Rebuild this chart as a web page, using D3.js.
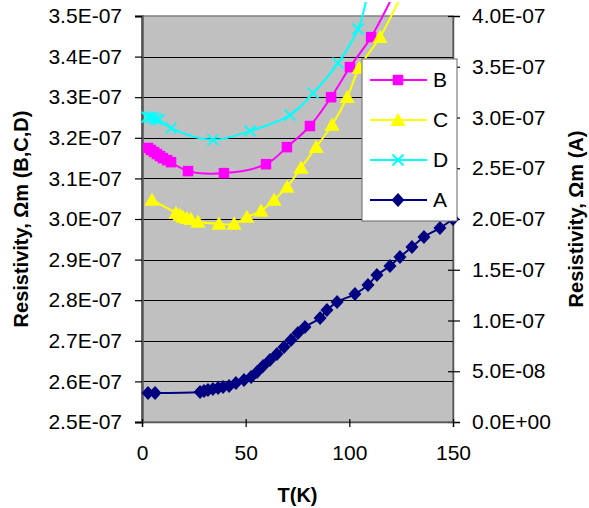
<!DOCTYPE html>
<html>
<head>
<meta charset="utf-8">
<script src="https://cdn.jsdelivr.net/npm/d3@7"></script>
<style>
  body { margin: 0; background: #fff; }
  svg { font-family: "Liberation Sans", Arial, sans-serif; }
</style>
</head>
<body>
<svg id="chart" width="589" height="508"></svg>
<script>
// Temperature (K) and resistivity (Ohm m)
const tB = [2.9, 4.3, 5.8, 7.2, 8.7, 10.1, 12.1, 14, 22.2, 39.5, 59.8, 69.9, 81, 91.2, 100.3, 110.5, 122];
const rB = [3.175, 3.170, 3.165, 3.160, 3.155, 3.150, 3.145, 3.140, 3.118, 3.113, 3.135, 3.177, 3.229, 3.300, 3.374, 3.448, 3.56];

const tC = [4.8, 16.4, 18.3, 19.8, 21.7, 23.6, 27, 37.1, 44.4, 50.6, 57.4, 63.7, 70, 76.7, 84, 91.7, 99, 104.7, 114.8, 125];
const rC = [3.047, 3.015, 3.010, 3.005, 3.002, 3.000, 2.993, 2.988, 2.988, 3.005, 3.020, 3.047, 3.079, 3.126, 3.177, 3.232, 3.300, 3.372, 3.448, 3.55];

const tD = [2.4, 3.9, 5.3, 6.8, 8.2, 14, 34.2, 52.1, 71.4, 82.5, 94.5, 104.2, 109];
const rD = [3.251, 3.251, 3.249, 3.246, 3.244, 3.224, 3.195, 3.217, 3.256, 3.310, 3.384, 3.468, 3.56];

const tA = [2.9, 6.3, 28, 29.9, 31.8, 34.2, 36.7, 39.1, 42, 45.3, 49.2, 52.6, 55.5, 58.4, 61.7, 65.1, 68.5, 71.9, 75.2, 78.6, 85.9, 89.2, 94.1, 102.7, 109, 113.3, 119.6, 124.4, 130.2, 136, 143.7, 150];
const rA = [0.286, 0.286, 0.296, 0.305, 0.315, 0.325, 0.335, 0.345, 0.355, 0.384, 0.414, 0.443, 0.493, 0.552, 0.611, 0.670, 0.739, 0.808, 0.877, 0.936, 1.025, 1.103, 1.182, 1.261, 1.350, 1.448, 1.537, 1.626, 1.724, 1.823, 1.911, 2.000];

const xTicks = [0, 50, 100, 150];
const leftTicks = [2.5, 2.6, 2.7, 2.8, 2.9, 3.0, 3.1, 3.2, 3.3, 3.4, 3.5];
const rightTicks = [0, 0.5, 1.0, 1.5, 2.0, 2.5, 3.0, 3.5, 4.0];

const unit = 1e-7; // all resistivity arrays above are in units of 1E-07 Ohm m

const svg = d3.select("#chart");
const margin = { top: 16, right: 136, bottom: 86, left: 142 };
const W = 589, H = 508;
const plotRight = W - margin.right, plotBottom = H - margin.bottom;

const x = d3.scaleLinear().domain([0, 150]).range([margin.left, plotRight]);
const yL = d3.scaleLinear().domain([2.5 * unit, 3.5 * unit]).range([plotBottom, margin.top]);
const yR = d3.scaleLinear().domain([0, 4.0 * unit]).range([plotBottom, margin.top]);

// Excel style scientific labels, e.g. 3.5E-07
function sci(v) {
  const [m, e] = d3.format(".1e")(v).split("e");
  const n = +e;
  return m + "E" + (n < 0 ? "-" : "+") + String(Math.abs(n)).padStart(2, "0");
}

// plot background
svg.append("rect")
  .attr("x", margin.left).attr("y", margin.top)
  .attr("width", plotRight - margin.left).attr("height", plotBottom - margin.top)
  .attr("fill", "#c0c0c0")
  .attr("stroke", "#808080").attr("stroke-width", 1.5);

// gridlines from the left axis
svg.append("g")
  .selectAll("line")
  .data(leftTicks.slice(1, -1))
  .enter()
  .append("line")
  .attr("x1", margin.left).attr("x2", plotRight)
  .attr("y1", d => Math.round(yL(d * unit)) + 0.5)
  .attr("y2", d => Math.round(yL(d * unit)) + 0.5)
  .attr("stroke", "#000").attr("stroke-width", 1);

// axes
const fontSize = 21;
const leftAxis = svg.append("g")
  .attr("transform", `translate(${margin.left},0)`)
  .call(d3.axisLeft(yL).tickValues(leftTicks.map(d => d * unit)).tickFormat(sci).tickSize(7).tickPadding(13));

const rightAxis = svg.append("g")
  .attr("transform", `translate(${plotRight},0)`)
  .call(d3.axisRight(yR).tickValues(rightTicks.map(d => d * unit)).tickFormat(sci).tickSize(7).tickPadding(12));
rightAxis.selectAll(".tick line").attr("x1", -5);

const bottomAxis = svg.append("g")
  .attr("transform", `translate(0,${plotBottom})`)
  .call(d3.axisBottom(x).tickValues(xTicks).tickSize(5).tickPadding(18));
bottomAxis.selectAll(".tick line").attr("y1", -3);

[leftAxis, rightAxis, bottomAxis].forEach(g => {
  g.selectAll(".tick line").attr("stroke", "#000").attr("stroke-width", 1.2);
  g.selectAll(".tick text")
    .attr("font-family", "Liberation Sans, Arial, sans-serif")
    .attr("font-size", fontSize).attr("fill", "#000");
});
leftAxis.select(".domain").attr("stroke", "#555").attr("stroke-width", 2.5);
rightAxis.select(".domain").attr("stroke", "#555").attr("stroke-width", 1.5);
bottomAxis.select(".domain").attr("stroke", "#555").attr("stroke-width", 1.5);

// axis titles
svg.append("text")
  .attr("transform", `translate(28,${(margin.top + plotBottom) / 2}) rotate(-90)`)
  .attr("text-anchor", "middle")
  .attr("font-size", 20).attr("font-weight", "bold")
  .text("Resistivity, Ωm (B,C,D)");

svg.append("text")
  .attr("transform", `translate(583,${(margin.top + plotBottom) / 2}) rotate(-90)`)
  .attr("text-anchor", "middle")
  .attr("font-size", 20).attr("font-weight", "bold")
  .text("Resistivity, Ωm (A)");

svg.append("text")
  .attr("x", (margin.left + plotRight) / 2).attr("y", 502)
  .attr("text-anchor", "middle")
  .attr("font-size", 20).attr("font-weight", "bold")
  .text("T(K)");

// clip so off-scale points are cut at the top like the original
svg.append("clipPath").attr("id", "plot-clip")
  .append("rect")
  .attr("x", margin.left - 8).attr("y", 2)
  .attr("width", plotRight - margin.left + 16).attr("height", plotBottom - 2 + 8);
svg.append("clipPath").attr("id", "marker-clip")
  .append("rect")
  .attr("x", margin.left - 8).attr("y", margin.top)
  .attr("width", plotRight - margin.left + 16).attr("height", plotBottom - margin.top + 8);

const series = [
  { name: "A", t: tA, r: rA, y: yR, color: "#000080", symbol: "diamond", size: 7 },
  { name: "B", t: tB, r: rB, y: yL, color: "#ff00ff", symbol: d3.symbolSquare, size: 110 },
  { name: "C", t: tC, r: rC, y: yL, color: "#ffff00", symbol: d3.symbolTriangle, size: 100 },
  { name: "D", t: tD, r: rD, y: yL, color: "#00ffff", symbol: "x", size: 11 }
];

function drawMarker(g, s, px, py) {
  if (s.symbol === "x") {
    const h = s.size / 2;
    g.append("path")
      .attr("d", `M${px - h},${py - h}L${px + h},${py + h}M${px - h},${py + h}L${px + h},${py - h}`)
      .attr("stroke", s.color).attr("stroke-width", 1.8).attr("fill", "none");
  } else if (s.symbol === "diamond") {
    const h = s.size;
    g.append("path")
      .attr("d", `M${px},${py - h}L${px + h - 0.5},${py}L${px},${py + h}L${px - h + 0.5},${py}Z`)
      .attr("fill", s.color);
  } else {
    const dy = s.symbol === d3.symbolTriangle ? 1.5 : 0;
    g.append("path")
      .attr("d", d3.symbol().type(s.symbol).size(s.size)())
      .attr("transform", `translate(${px},${py + dy})`)
      .attr("fill", s.color);
  }
}

const lineLayer = svg.append("g").attr("clip-path", "url(#plot-clip)");
const markerLayer = svg.append("g").attr("clip-path", "url(#marker-clip)");

series.forEach(s => {
  const pts = s.t.map((t, i) => [x(t), s.y(s.r[i] * unit)]);
  lineLayer.append("path")
    .datum(pts)
    .attr("d", d3.line().curve(d3.curveCatmullRom.alpha(0.5)))
    .attr("fill", "none")
    .attr("stroke", s.color)
    .attr("stroke-width", 2);
  const mg = markerLayer.append("g");
  pts.forEach(p => drawMarker(mg, s, p[0], p[1]));
});

// legend
const legend = svg.append("g").attr("transform", "translate(362,59)");
legend.append("rect")
  .attr("width", 95).attr("height", 162)
  .attr("fill", "#fff").attr("stroke", "#666").attr("stroke-width", 1);

const legendOrder = ["B", "C", "D", "A"];
legendOrder.forEach((name, i) => {
  const s = series.find(d => d.name === name);
  const cy = 21 + i * 40;
  const row = legend.append("g");
  row.append("line")
    .attr("x1", 8).attr("x2", 65).attr("y1", cy).attr("y2", cy)
    .attr("stroke", s.color).attr("stroke-width", 2);
  drawMarker(row, s, 36, cy);
  row.append("text")
    .attr("x", 71).attr("y", cy + 7)
    .attr("font-size", 21)
    .text(name);
});
</script>
</body>
</html>
